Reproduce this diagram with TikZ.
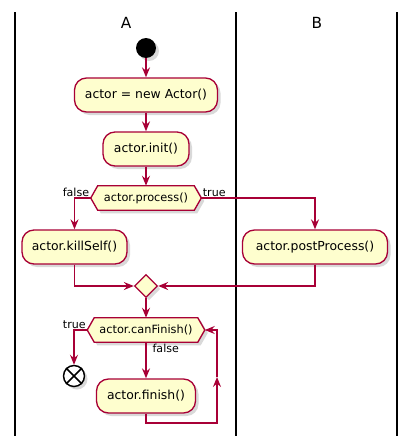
\documentclass[tikz,border=0pt]{standalone}
\usepackage{fontspec}
\setmainfont{DejaVu Sans}
\usetikzlibrary{arrows.meta,shapes.geometric,shadows,backgrounds}

\definecolor{actfill}{RGB}{254,254,206}
\definecolor{actline}{RGB}{168,0,54}

\begin{document}
\begin{tikzpicture}[x=0.75pt,y=0.75pt,yscale=-1,xscale=1,
  softshadow/.style={drop shadow={shadow xshift=2.25pt,shadow yshift=-2.25pt,opacity=0.25,fill=black!60}},
  lane/.style={draw=black,line width=1.2pt},
  lanetitle/.style={inner sep=0pt,font=\fontsize{11.5}{13}\selectfont},
  actbox/.style={draw=actline,fill=actfill,line width=1pt,rounded corners=9pt,minimum height=25.5pt,inner sep=0pt,font=\fontsize{9.3}{11}\selectfont,softshadow},
  hexbox/.style={inner sep=0pt,minimum height=18pt,font=\fontsize{8.5}{10}\selectfont},
  hexline/.style={draw=actline,fill=actfill,line width=1pt,softshadow},
  flow/.style={draw=actline,line width=0.9pt,-{Stealth[length=7.5pt,width=6pt,inset=2.6pt]}},
  branch/.style={inner sep=1pt,font=\fontsize{8.3}{10}\selectfont},
]
\useasboundingbox (0,0) rectangle (416,446);

%Shape: Swimlanes
\draw[lane] (15,12) -- (15,436);
\draw[lane] (236,12) -- (236,436);
\draw[lane] (397,12) -- (397,436);

% Text Node
\node (laneA) [lanetitle] at (126,23) {A};
% Text Node
\node (laneB) [lanetitle] at (317,23) {B};

%Shape: Start
\node (start) [circle,fill=black,minimum size=15pt,inner sep=0pt,softshadow] at (146,48) {};
%Shape: Activities
\node (new) [actbox,minimum width=107.25pt] at (146,95) {actor = new Actor()};
\node (init) [actbox,minimum width=64.5pt] at (146,149) {actor.init()};
\node (proc) [hexbox,minimum width=82.5pt] at (146,198) {actor.process()};
\node (kill) [actbox,minimum width=78.75pt] at (74.5,247) {actor.killSelf()};
\node (post) [actbox,minimum width=108.75pt] at (315,247) {actor.postProcess()};
%Shape: Merge
\node (merge) [diamond,draw=actline,fill=actfill,line width=1pt,minimum size=17.25pt,inner sep=0pt,softshadow] at (146,286) {};
\node (canf) [hexbox,minimum width=87.75pt] at (146,330) {actor.canFinish()};
%Shape: Stop
\node (stop) [circle,draw=black,fill=white,line width=1.1pt,minimum size=15.75pt,inner sep=0pt,softshadow] at (74,376) {};
\draw[black,line width=1.1pt] (stop.north west) -- (stop.south east) (stop.north east) -- (stop.south west);
\node (fin) [actbox,minimum width=74.25pt] at (146,396) {actor.finish()};

%Shape: Hexagons
\begin{scope}[on background layer]
\draw[hexline] (proc.west) -- ([xshift=5.25pt]proc.north west) -- ([xshift=-5.25pt]proc.north east) -- (proc.east) -- ([xshift=-5.25pt]proc.south east) -- ([xshift=5.25pt]proc.south west) -- cycle;
\draw[hexline] (canf.west) -- ([xshift=5.25pt]canf.north west) -- ([xshift=-5.25pt]canf.north east) -- (canf.east) -- ([xshift=-5.25pt]canf.south east) -- ([xshift=5.25pt]canf.south west) -- cycle;
\end{scope}

%Shape: Arrows
\draw[flow] (start) -- (new);
\draw[flow] (new) -- (init);
\draw[flow] (init) -- (proc);
\draw[flow] (proc.west) -| (kill.north);
\draw[flow] (proc.east) -| (post.north);
\draw[flow] (kill.south) |- (merge.west);
\draw[flow] (post.south) |- (merge.east);
\draw[flow] (merge) -- (canf);
\draw[flow] (canf.west) -| (stop.north);
\draw[flow] (canf) -- (fin);
\coordinate (loopA) at (217,423);
\coordinate (loopB) at (217,377);
\draw[flow] (fin.south) |- (loopA) -- (loopB);
\draw[flow] (loopB) |- (canf.east);

% Text Node
\node (procF) [branch,anchor=south east] at (proc.west) {false};
% Text Node
\node (procT) [branch,anchor=south west] at (proc.east) {true};
% Text Node
\node (canfT) [branch,anchor=south east] at (canf.west) {true};
% Text Node
\node (canfF) [branch,anchor=north west] at ([xshift=3.75pt]canf.south) {false};

\end{tikzpicture}
\end{document}
